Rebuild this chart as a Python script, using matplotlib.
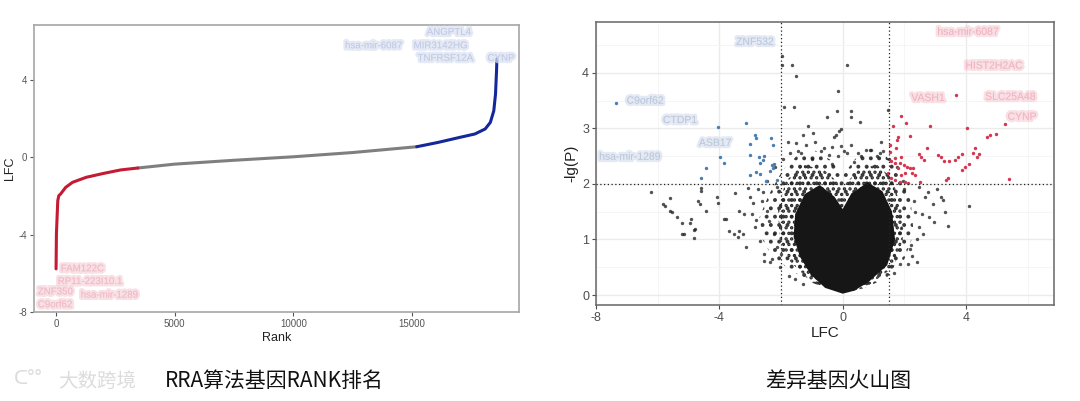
import matplotlib
matplotlib.use("Agg")
import matplotlib.pyplot as plt
import matplotlib.patheffects as pe
from matplotlib.patches import Polygon

plt.rcParams['font.family'] = ['Liberation Sans', 'DejaVu Sans']
plt.rcParams['axes.unicode_minus'] = False
plt.rcParams['hatch.linewidth'] = 1.6

# ---- RRA rank curve ----
red_rank = [0, 15, 43, 72, 116, 188, 406, 696, 1275, 2000, 2724, 3450]
red_lfc = [-5.77, -3.97, -3.1, -2.24, -1.98, -1.9, -1.55, -1.29, -1.03, -0.83, -0.65, -0.55]
gray_rank = [3450, 5000, 7500, 10000, 12500, 15200]
gray_lfc = [-0.55, -0.35, -0.15, 0.03, 0.25, 0.55]
blue_rank = [15200, 16087, 17000, 17652, 18087, 18304, 18449, 18522, 18565, 18580]
blue_lfc = [0.55, 0.77, 1.03, 1.21, 1.47, 1.81, 2.41, 3.28, 4.48, 5.09]

rank_low_labels = ["FAM122C", "RP11-223I10.1", "ZNF350", "hsa-mir-1289", "C9orf62"]
rank_low_x = [200, 70, -770, 1040, -770]
rank_low_y = [-5.74, -6.4, -6.93, -7.1, -7.6]
rank_high_labels = ["ANGPTL4", "hsa-mir-6087", "MIR3142HG", "TNFRSF12A", "CYNP"]
rank_high_x = [16550, 13390, 16200, 16400, 18750]
rank_high_y = [6.5, 5.8, 5.8, 5.15, 5.15]

# ---- volcano: scattered points ----
gray_x = [-1.98, -1.98, -1.64, -1.51, 0.15, -0.17, -0.19, 0.28, 0.28, -0.50, 0.56, -1.91, -1.57,
          -1.14, -0.06, -0.13, -0.22, -0.28, 1.45, 0.28, -0.05, -0.34, -0.95, -1.29, -1.79, -1.51,
          0.89, 1.23, -0.7, 0.5, 1.1, -1.0, 0.05, -0.45, 0.75, -1.35, 1.3,
          -6.21, -5.82, -5.76, -5.59, -5.59, -5.53, -5.37, -5.2, -5.2, -5.14, -4.92, -4.95, -4.84,
          -4.81, -4.78, -4.59, -4.59, -4.70, -4.64, -4.44, -4.08, -4.05, -3.86, -3.80, -3.49, -3.69,
          -3.52, -3.41, -3.36, -3.36, -3.24, -3.13, -3.08, -3.02, -2.91, -2.96, -2.85, -2.68, -2.57,
          -2.57, -2.35, -2.63, -2.46, -2.40, -2.24, -2.13, -2.01, -2.13, -2.6, -2.8, -3.2, -2.3,
          4.08, 3.19, 3.25, 3.41, 3.30, 2.91, 2.80, 2.97, 2.40, 2.18, 2.46, 2.57, 2.68, 2.46, 2.24,
          2.0, 2.3, 2.6, 2.1, 1.9, 2.35, 2.75, 3.05,
          -2.2, -2.45, -2.75, -1.95, -1.7, -1.45, -1.2, -0.9, -0.6, -2.05, -1.75, -1.55, -1.3,
          0.6, 0.9, 1.2, 1.5, 1.75, 1.95, 2.2, 2.4, 1.65, 1.85, 0.35, -0.35, 0.15, -0.15]
gray_y = [4.30, 4.14, 4.14, 3.95, 4.14, 3.67, 3.31, 3.31, 3.20, 3.20, 3.12, 3.38, 3.39,
          3.04, 2.99, 2.95, 2.88, 2.85, 3.33, 2.70, 2.69, 2.67, 2.91, 2.88, 2.76, 2.73,
          2.61, 2.76, 2.6, 2.55, 2.5, 2.45, 2.6, 2.52, 2.62, 2.55, 2.6,
          1.86, 1.63, 1.60, 1.75, 1.52, 1.49, 1.40, 1.30, 1.10, 1.09, 1.37, 1.30, 1.17,
          1.02, 1.18, 1.92, 1.88, 1.70, 1.64, 1.52, 1.77, 1.66, 1.37, 1.37, 1.84, 1.16,
          1.10, 1.04, 1.52, 1.16, 1.10, 0.86, 1.92, 1.77, 1.65, 1.46, 1.22, 0.98, 0.74,
          0.62, 0.59, 1.70, 1.52, 1.34, 1.10, 0.86, 0.74, 1.95, 1.85, 1.35, 1.45, 0.65,
          1.60, 1.77, 1.71, 1.25, 1.49, 1.64, 1.40, 1.31, 1.01, 0.83, 1.22, 1.46, 1.77, 1.95, 0.70,
          1.9, 1.7, 1.1, 0.55, 1.2, 1.5, 1.85, 1.9,
          2.3, 2.05, 1.9, 2.45, 2.55, 2.6, 2.7, 2.75, 2.65, 0.5, 0.35, 0.28, 0.2,
          2.5, 2.62, 2.55, 2.45, 2.3, 2.05, 0.9, 0.6, 0.4, 0.55, 2.4, 2.35, 2.55, 2.5]

blue_x = [-7.36, -4.05, -3.13, -2.84, -2.82, -3.02, -2.32, -2.26, -3.0, -2.73, -2.57, -2.59,
          -2.70, -2.29, -2.24, -2.26, -2.35, -2.83, -2.68, -3.02, -2.48, -2.13, -4.44, -4.61,
          -3.98, -3.86]
blue_y = [3.46, 3.03, 3.10, 2.89, 2.82, 2.72, 2.82, 2.70, 2.52, 2.49, 2.51, 2.44,
          2.38, 2.34, 2.35, 2.28, 2.24, 2.22, 2.17, 2.16, 2.06, 2.07, 2.29, 2.10,
          2.49, 2.37]

red_x = [3.66, 1.88, 2.04, 1.62, 2.83, 4.03, 5.26, 4.96, 4.66, 4.78, 1.79, 1.77, 2.18, 1.54,
         1.73, 2.74, 4.30, 4.22, 4.43, 4.34, 3.86, 1.54, 1.90, 2.46, 2.54, 2.63, 3.10, 3.19,
         3.27, 3.43, 3.63, 3.74, 3.86, 3.97, 4.08, 1.57, 1.68, 1.85, 1.99, 2.07, 2.18, 2.29,
         2.01, 1.90, 2.24, 2.35, 1.57, 1.68, 1.85, 2.01, 2.10, 2.51, 3.33, 3.41, 5.40, 1.45,
         1.79, 1.68]
red_y = [3.60, 3.22, 3.09, 3.04, 3.04, 3.01, 3.08, 2.90, 2.85, 2.88, 2.85, 2.80, 2.87, 2.71,
         2.64, 2.65, 2.64, 2.56, 2.54, 2.49, 2.54, 2.58, 2.49, 2.54, 2.49, 2.44, 2.53, 2.49,
         2.42, 2.42, 2.43, 2.49, 2.25, 2.30, 2.35, 2.42, 2.37, 2.37, 2.34, 2.31, 2.28, 2.28,
         2.19, 2.16, 2.19, 2.16, 2.10, 2.07, 2.04, 2.04, 2.02, 2.04, 2.07, 2.10, 2.08, 2.19,
         2.28, 2.47]

# dense regions of the volcano (outlines)
core_x = [0.0, -0.55, -1.0, -1.35, -1.55, -1.5, -1.2, -0.75, -0.3, 0.0, 0.3, 0.8, 1.25,
          1.55, 1.65, 1.4, 0.8, 0.35]
core_y = [0.05, 0.15, 0.38, 0.7, 1.05, 1.45, 1.8, 1.95, 1.75, 1.5, 1.8, 2.0, 1.85,
          1.5, 1.0, 0.55, 0.25, 0.1]
mid_x = [0.0, -1.0, -1.7, -2.05, -2.1, -1.85, -1.3, -0.6, 0.0, 0.5, 1.1, 1.6, 1.9, 1.95, 1.65, 0.7]
mid_y = [0.05, 0.22, 0.6, 1.0, 1.55, 2.05, 2.35, 2.25, 1.95, 2.25, 2.35, 2.1, 1.55, 1.0, 0.5, 0.12]
outer_x = [0.0, -0.9, -1.7, -2.3, -2.6, -2.7, -2.4, -1.95, -1.5, -0.9, -0.3, 0.0, 0.4, 0.9,
           1.4, 1.9, 2.2, 2.3, 2.0, 1.4, 0.6]
outer_y = [0.05, 0.2, 0.45, 0.7, 1.0, 1.4, 1.8, 2.25, 2.5, 2.6, 2.4, 2.15, 2.45, 2.6,
           2.5, 2.2, 1.7, 1.1, 0.65, 0.3, 0.1]

volc_blue_labels = ["ZNF532", "C9orf62", "CTDP1", "ASB17", "hsa-mir-1289"]
volc_blue_x = [-2.85, -6.41, -5.28, -4.14, -7.9]
volc_blue_y = [4.56, 3.5, 3.15, 2.74, 2.49]
volc_red_labels = ["hsa-mir-6087", "HIST2H2AC", "VASH1", "SLC25A48", "CYNP"]
volc_red_x = [4.06, 4.9, 2.76, 5.43, 5.81]
volc_red_y = [4.74, 4.13, 3.55, 3.57, 3.21]

RED = '#c41a34'
BLUE = '#14289a'
blur_red = [pe.withStroke(linewidth=3.5, foreground='#f6d3db', alpha=0.7)]
blur_blue = [pe.withStroke(linewidth=3.5, foreground='#d9e0f0', alpha=0.7)]

fig = plt.figure(figsize=(10.8, 4.01), dpi=100)

# ---------- left: rank plot ----------
ax1 = fig.add_axes([0.0315, 0.222, 0.449, 0.7157])
ax1.plot(gray_rank, gray_lfc, color='#7f7f7f', lw=2.2, solid_capstyle='round')
ax1.plot(red_rank, red_lfc, color=RED, lw=2.2, solid_capstyle='round')
ax1.plot(blue_rank, blue_lfc, color=BLUE, lw=2.2, solid_capstyle='round')
for t, x, y in zip(rank_low_labels, rank_low_x, rank_low_y):
    ax1.text(x, y, t, fontsize=7, color='#eeb8c4', va='center', ha='left', path_effects=blur_red)
for t, x, y in zip(rank_high_labels, rank_high_x, rank_high_y):
    ax1.text(x, y, t, fontsize=7, color='#c0cae6', va='center', ha='center', path_effects=blur_blue)
ax1.set_xlim(-929, 19509)
ax1.set_ylim(-8, 6.85)
ax1.set_xticks([0, 5000, 10000, 15000])
ax1.set_yticks([-8, -4, 0, 4])
ax1.set_xlabel("Rank", fontsize=9, color='#222222', labelpad=2)
ax1.set_ylabel("LFC", fontsize=9, color='#222222', labelpad=2)
ax1.tick_params(labelsize=7, colors='#555555', length=3, width=0.8, pad=2)
for s in ax1.spines.values():
    s.set_color('#a6a6a6')
    s.set_linewidth(1.2)

# ---------- right: volcano ----------
ax2 = fig.add_axes([0.5519, 0.2401, 0.4241, 0.7042])
ax2.set_axisbelow(True)
ax2.set_xticks([-8, -4, 0, 4])
ax2.set_xticks([-6, -2, 2, 6], minor=True)
ax2.set_yticks([0, 1, 2, 3, 4])
ax2.set_yticks([0.5, 1.5, 2.5, 3.5, 4.5], minor=True)
ax2.grid(which='major', color='#ebebeb', lw=1.0)
ax2.grid(which='minor', color='#f4f4f4', lw=0.6)
ax2.tick_params(which='minor', length=0)
ax2.add_patch(Polygon(list(zip(outer_x, outer_y)), closed=True, fc='none', ec='#3a3a3a',
                      hatch='..', lw=0))
ax2.add_patch(Polygon(list(zip(mid_x, mid_y)), closed=True, fc='none', ec='#262626',
                      hatch='...', lw=0))
ax2.add_patch(Polygon(list(zip(core_x, core_y)), closed=True, fc='#161616', ec='#161616', lw=2))
ax2.scatter(gray_x, gray_y, s=6, color='#1a1a1a', alpha=0.75, lw=0)
ax2.scatter(blue_x, blue_y, s=6, color='#4a7db3', lw=0)
ax2.scatter(red_x, red_y, s=6, color='#d6354f', lw=0)
ax2.axvline(-2, color='#222222', lw=0.9, ls=(0, (1, 2)))
ax2.axvline(1.5, color='#222222', lw=0.9, ls=(0, (1, 2)))
ax2.axhline(2, color='#222222', lw=0.9, ls=(0, (1, 2)))
for t, x, y in zip(volc_blue_labels, volc_blue_x, volc_blue_y):
    ax2.text(x, y, t, fontsize=7.5, color='#b9c8da', va='center',
             ha='left' if t.startswith('hsa') else 'center', path_effects=blur_blue)
for t, x, y in zip(volc_red_labels, volc_red_x, volc_red_y):
    ax2.text(x, y, t, fontsize=7.5, color='#f0b2bf', va='center', ha='center', path_effects=blur_red)
ax2.set_xlim(-8, 6.85)
ax2.set_ylim(-0.175, 4.91)
ax2.set_xlabel("LFC", fontsize=11, color='#222222', labelpad=2)
ax2.set_ylabel("-lg(P)", fontsize=11, color='#222222', labelpad=3)
ax2.tick_params(which='major', labelsize=9, colors='#4d4d4d', length=3, width=0.8, pad=2)
for s in ax2.spines.values():
    s.set_color('#666666')
    s.set_linewidth(1.1)

# ---------- captions ----------
cjk = ['Noto Sans CJK SC', 'DejaVu Sans']
fig.text(274 / 1080, 1 - 381 / 401, "RRA算法基因RANK排名", fontsize=15, family=cjk,
         color='#111111', ha='center', va='center')
fig.text(838 / 1080, 1 - 381 / 401, "差异基因火山图", fontsize=15, family=cjk,
         color='#111111', ha='center', va='center')
fig.text(58 / 1080, 1 - 381 / 401, "大数跨境", fontsize=14, family=cjk,
         color='#dcdcdc', ha='left', va='center')
fig.text(14 / 1080, 1 - 379 / 401, "ᑕ°°", fontsize=14, family=cjk,
         color='#dcdcdc', ha='left', va='center')

fig.savefig("out.png", dpi=100)
